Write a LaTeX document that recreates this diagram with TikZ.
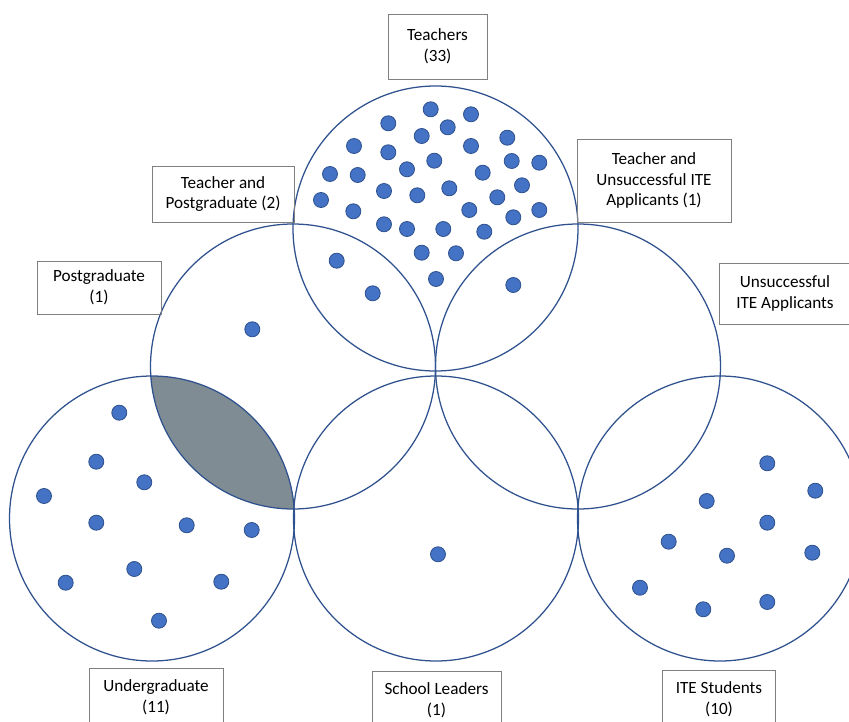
\documentclass[tikz,border=0pt]{standalone}
\usepackage{fontspec}
\setmainfont{Carlito}
\usepackage{tikz}

\definecolor{ringblue}{RGB}{47,82,143}
\definecolor{dotblue}{RGB}{68,114,196}
\definecolor{lensgray}{RGB}{128,140,148}
\definecolor{boxgray}{RGB}{128,128,128}

\begin{document}
\begin{tikzpicture}[x=0.025cm, y=-0.025cm,
    ring/.style={draw=ringblue, line width=0.9pt},
    member/.style={fill=dotblue, draw=ringblue, line width=0.6pt},
    tag/.style={draw=boxgray, line width=0.6pt, align=center, inner sep=2pt,
        font=\fontsize{12.2}{14.8}\selectfont}]
  \useasboundingbox (0,0) rectangle (849,722);
  \clip (0,0) rectangle (849,722);
  % Circle centres (radius 142.5)
  \coordinate (T)  at (435.5,228.5);
  \coordinate (P)  at (293,366.5);
  \coordinate (U)  at (578,366.5);
  \coordinate (UG) at (152,518.5);
  \coordinate (SL) at (436,518.5);
  \coordinate (IS) at (720,518.5);
  % Shaded overlap: Postgraduate and Undergraduate
  \begin{scope}
    \clip (P) circle (142.5);
    \fill[lensgray] (UG) circle (142.5);
  \end{scope}
  % The six circles
  \foreach \c in {T,P,U,UG,SL,IS}
    \draw[ring] (\c) circle (142.5);
  % Teachers only (33)
  \foreach \x/\y in {430.7/109.3, 471/114.3, 388.3/123.3, 447.7/127.3, 421.7/136,
      507.3/137.7, 354/146, 471/146, 388.3/152.3, 434.3/160.7, 511.7/161,
      539.3/162.7, 330/174, 357.7/175, 407/169.3, 482.7/172.7, 522/185.3,
      384/191, 417.3/195.3, 449.3/188.3, 497.3/197.3, 321/200, 353.3/211.3,
      469.3/210, 513.3/217.3, 539.3/210, 384/224.3, 407/229, 443.3/229,
      484.3/231.7, 421.7/252.7, 456/253.3, 436/279}
    \path[member] (\x,\y) circle (7.5);
  % Teacher and Postgraduate (2), Teacher and Unsuccessful (1), Postgraduate (1)
  \foreach \x/\y in {336.7/260.7, 372.7/293.3, 513.3/285, 252.3/329.3}
    \path[member] (\x,\y) circle (7.5);
  % Undergraduate (11)
  \foreach \x/\y in {119.3/412.7, 96.3/461.7, 144.3/482.3, 44/496, 96.3/522.7,
      186.7/525.3, 251.7/530, 134.3/569, 65.7/582.7, 221.3/581.7, 159/620.7}
    \path[member] (\x,\y) circle (7.5);
  % School Leaders (1)
  \path[member] (438,554.3) circle (7.5);
  % ITE Students (10)
  \foreach \x/\y in {767.3/463.3, 815.3/490.7, 706.7/501, 767.3/522.7, 668.7/541.7,
      727/555.7, 812.3/552.7, 640/587.7, 703.3/609.3, 767.3/602}
    \path[member] (\x,\y) circle (7.5);
  % Labels
  \node[tag, minimum width=2.475cm, minimum height=1.625cm] (teach) at (437.5,46.5)
    {Teachers\\(33)};
  \node[tag, minimum width=3.55cm, minimum height=1.4cm] (teachpg) at (223,194)
    {Teacher and\\Postgraduate (2)};
  \node[tag, minimum width=3.85cm, minimum height=2.075cm] (teachite) at (654,180.5)
    {Teacher and\\Unsuccessful ITE\\Applicants (1)};
  \node[tag, minimum width=3.1cm, minimum height=1.325cm] (pg) at (99,287.5)
    {Postgraduate\\(1)};
  \node[tag, minimum width=3.3cm, minimum height=1.525cm] (ite) at (785,293.5)
    {Unsuccessful\\ITE Applicants};
  \node[tag, minimum width=3.35cm, minimum height=1.45cm] (ug) at (156,697)
    {Undergraduate\\(11)};
  \node[tag, minimum width=3.225cm, minimum height=1.45cm] (sl) at (436.5,700)
    {School Leaders\\(1)};
  \node[tag, minimum width=2.825cm, minimum height=1.45cm] (its) at (719,699)
    {ITE Students\\(10)};
\end{tikzpicture}
\end{document}
